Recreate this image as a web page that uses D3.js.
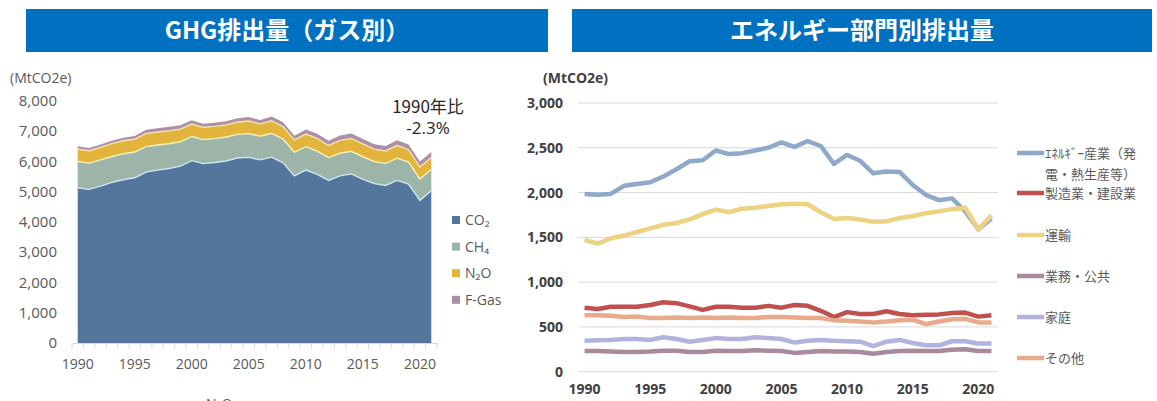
<!DOCTYPE html>
<html>
<head>
<meta charset="utf-8">
<script src="https://cdn.jsdelivr.net/npm/d3@7"></script>
<style>
  body { margin: 0; background: #fff; }
  text { font-family: "Open Sans", "Noto Sans CJK JP", sans-serif; }
  .jp { font-family: "Noto Sans CJK JP", sans-serif; }
</style>
</head>
<body>
<script>
// DATA
var years = d3.range(1990, 2022);
var gasNames = ['CO₂', 'CH₄', 'N₂O', 'F-Gas'];
var co2 = [5131, 5079, 5186, 5308, 5397, 5462, 5651, 5716, 5767, 5846, 6027, 5930, 5965, 6018, 6115, 6137,
    6055, 6143, 5954, 5523, 5716, 5577, 5374, 5527, 5589, 5412, 5267, 5208, 5376, 5255, 4715, 5032];
var ch4 = [870, 868, 866, 858, 860, 850, 840, 830, 820, 805, 800, 795, 790, 790, 780, 785,
    780, 790, 790, 785, 775, 765, 755, 750, 750, 745, 730, 730, 735, 725, 710, 705];
var n2o = [405, 410, 415, 425, 430, 430, 440, 430, 430, 420, 410, 405, 405, 400, 410, 415,
    410, 415, 410, 405, 415, 420, 400, 420, 420, 425, 410, 410, 425, 410, 395, 395];
var fgas = [95, 90, 95, 95, 100, 105, 115, 120, 130, 125, 125, 115, 120, 120, 125, 130,
    130, 140, 140, 140, 150, 155, 155, 160, 165, 165, 165, 165, 170, 175, 180, 185];
var leftTicks = [0, 1000, 2000, 3000, 4000, 5000, 6000, 7000, 8000];

var sectorNames = ['ｴﾈﾙｷﾞｰ産業（発電・熱生産等）', '製造業・建設業', '運輸', '業務・公共', '家庭', 'その他'];
var energy = [1983, 1975, 1985, 2075, 2095, 2115, 2180, 2260, 2350, 2360, 2470, 2430, 2440, 2470, 2500, 2560,
    2510, 2575, 2520, 2320, 2420, 2355, 2215, 2235, 2230, 2085, 1975, 1915, 1935, 1790, 1590, 1710];
var manuf = [715, 700, 725, 725, 725, 745, 775, 765, 730, 690, 725, 725, 715, 715, 735, 715,
    745, 735, 680, 610, 665, 645, 645, 675, 645, 630, 635, 640, 655, 660, 615, 630];
var transport = [1470, 1430, 1490, 1520, 1560, 1600, 1640, 1660, 1700, 1760, 1810, 1780, 1820, 1830, 1850, 1870,
    1875, 1870, 1780, 1705, 1715, 1700, 1675, 1680, 1715, 1735, 1770, 1790, 1815, 1830, 1590, 1745];
var commercial = [230, 230, 225, 220, 220, 225, 235, 235, 220, 220, 235, 230, 230, 240, 235, 230,
    210, 220, 230, 225, 225, 220, 200, 220, 230, 235, 230, 230, 245, 250, 230, 230];
var residential = [345, 350, 355, 365, 365, 355, 385, 365, 335, 355, 375, 365, 365, 385, 375, 365,
    325, 345, 355, 345, 340, 335, 285, 335, 355, 320, 295, 295, 340, 340, 315, 315];
var other = [630, 630, 625, 610, 615, 600, 600, 605, 600, 605, 600, 605, 600, 600, 610, 610,
    605, 600, 600, 575, 570, 560, 550, 560, 575, 580, 530, 560, 585, 590, 550, 550];
var rightTicks = [0, 500, 1000, 1500, 2000, 2500, 3000];
var yearLabels = [1990, 1995, 2000, 2005, 2010, 2015, 2020];

var svg = d3.select('body')
    .append('svg')
    .attr('width', 1157)
    .attr('height', 401);

// title bars
var titles = [
    { x: 26, w: 522, text: 'GHG排出量（ガス別）' },
    { x: 572, w: 580, text: 'エネルギー部門別排出量' }
];
titles.forEach(function (t) {
    svg.append('rect')
        .attr('x', t.x).attr('y', 9)
        .attr('width', t.w).attr('height', 43)
        .attr('fill', '#0070C0');
    svg.append('text')
        .attr('class', 'jp')
        .attr('x', t.x + t.w / 2).attr('y', 39)
        .attr('text-anchor', 'middle')
        .attr('fill', '#fff')
        .attr('font-size', 24)
        .attr('font-weight', 'bold')
        .text(t.text);
});

// LEFT: stacked area
var xL = d3.scaleBand().domain(years).range([72, 437]);
var yL = d3.scaleLinear().domain([0, 8000]).range([343, 101]);

var rows = years.map(function (y, i) {
    return { year: y, 'CO₂': co2[i], 'CH₄': ch4[i], 'N₂O': n2o[i], 'F-Gas': fgas[i] };
});
var stack = d3.stack().keys(gasNames)(rows);
var gasColor = ['#54759c', '#9db5a9', '#e3b43c', '#ad8fa6'];
var gasEdge = ['#cbe6f4', '#f6f0bd', '#f3e3b0', 'none'];

var area = d3.area()
    .x(function (d) { return xL(d.data.year) + xL.bandwidth() / 2; })
    .y0(function (d) { return yL(d[0]); })
    .y1(function (d) { return yL(d[1]); });
var topLine = d3.line()
    .x(function (d) { return xL(d.data.year) + xL.bandwidth() / 2; })
    .y(function (d) { return yL(d[1]); });

svg.selectAll('path.gas')
    .data(stack)
    .enter().append('path')
    .attr('class', 'gas')
    .attr('d', area)
    .attr('fill', function (d, i) { return gasColor[i]; });
svg.selectAll('path.edge')
    .data(stack)
    .enter().append('path')
    .attr('class', 'edge')
    .attr('d', topLine)
    .attr('fill', 'none')
    .attr('stroke', function (d, i) { return gasEdge[i]; })
    .attr('stroke-width', 1.4);

// left x axis
var axL = svg.append('g').attr('transform', 'translate(0,343)')
    .call(d3.axisBottom(xL).tickValues([]).tickSizeOuter(0));
axL.select('.domain').attr('stroke', '#d9d9d9');
axL.selectAll('line.tk')
    .data(years.concat([2022]))
    .enter().append('line')
    .attr('class', 'tk')
    .attr('x1', function (d) { return d < 2022 ? xL(d) : xL.range()[1]; })
    .attr('x2', function (d) { return d < 2022 ? xL(d) : xL.range()[1]; })
    .attr('y1', 0).attr('y2', 6)
    .attr('stroke', '#d9d9d9');
svg.selectAll('text.xl')
    .data(yearLabels)
    .enter().append('text')
    .attr('class', 'xl')
    .attr('x', function (d) { return xL(d) + xL.bandwidth() / 2; })
    .attr('y', 369)
    .attr('text-anchor', 'middle')
    .attr('font-size', 14)
    .attr('fill', '#595959')
    .text(function (d) { return d; });

svg.selectAll('text.yl')
    .data(leftTicks)
    .enter().append('text')
    .attr('class', 'yl')
    .attr('x', 57)
    .attr('y', function (d) { return yL(d) + 5; })
    .attr('text-anchor', 'end')
    .attr('font-size', 15)
    .attr('fill', '#595959')
    .text(d3.format(','));

svg.append('text')
    .attr('x', 10).attr('y', 83)
    .attr('font-size', 14)
    .attr('fill', '#595959')
    .text('(MtCO2e)');

// annotation
svg.append('text').attr('class', 'jp')
    .attr('x', 428).attr('y', 113)
    .attr('text-anchor', 'middle')
    .attr('font-size', 17).attr('fill', '#262626')
    .text('1990年比');
svg.append('text')
    .attr('x', 428).attr('y', 134)
    .attr('text-anchor', 'middle')
    .attr('font-size', 17).attr('fill', '#262626')
    .text('-2.3%');

// left legend
var legL = svg.selectAll('g.legL')
    .data(gasNames)
    .enter().append('g')
    .attr('class', 'legL')
    .attr('transform', function (d, i) { return 'translate(452,' + (220 + i * 26.6) + ')'; });
legL.append('rect')
    .attr('x', 0).attr('y', -4)
    .attr('width', 8).attr('height', 8)
    .attr('fill', function (d, i) { return gasColor[i]; });
legL.append('text')
    .attr('x', 13).attr('y', 5)
    .attr('font-size', 14)
    .attr('fill', '#595959')
    .text(function (d) { return d; });

// label cut by the bottom edge, as in the source image
svg.append('text')
    .attr('x', 206).attr('y', 409)
    .attr('font-size', 14)
    .attr('fill', '#595959')
    .text('N₂O');

// RIGHT: lines
var xR = d3.scaleBand().domain(years).range([578, 998]);
var yR = d3.scaleLinear().domain([0, 3000]).range([371.7, 103]);

svg.selectAll('line.grid')
    .data(rightTicks)
    .enter().append('line')
    .attr('class', 'grid')
    .attr('x1', 578).attr('x2', 998)
    .attr('y1', function (d) { return yR(d); })
    .attr('y2', function (d) { return yR(d); })
    .attr('stroke', '#d9d9d9');

svg.selectAll('text.yr')
    .data(rightTicks)
    .enter().append('text')
    .attr('class', 'yr')
    .attr('x', 563)
    .attr('y', function (d) { return yR(d) + 5; })
    .attr('text-anchor', 'end')
    .attr('font-size', 14)
    .attr('font-weight', 'bold')
    .attr('fill', '#404040')
    .text(d3.format(','));

svg.selectAll('text.xr')
    .data(yearLabels)
    .enter().append('text')
    .attr('class', 'xr')
    .attr('x', function (d) { return xR(d) + xR.bandwidth() / 2; })
    .attr('y', 394)
    .attr('text-anchor', 'middle')
    .attr('font-size', 14)
    .attr('font-weight', 'bold')
    .attr('fill', '#404040')
    .text(function (d) { return d; });

svg.append('text')
    .attr('x', 543).attr('y', 83)
    .attr('font-size', 14)
    .attr('font-weight', 'bold')
    .attr('fill', '#404040')
    .text('(MtCO2e)');

var sectors = [energy, manuf, transport, commercial, residential, other];
var sectorColor = ['#8ea9c9', '#c0504d', '#ecd281', '#a98a9c', '#b1b3de', '#e9a98b'];

var line = d3.line()
    .x(function (d, i) { return xR(years[i]) + xR.bandwidth() / 2; })
    .y(function (d) { return yR(d); });

svg.selectAll('path.sector')
    .data(sectors)
    .enter().append('path')
    .attr('class', 'sector')
    .attr('d', line)
    .attr('fill', 'none')
    .attr('stroke', function (d, i) { return sectorColor[i]; })
    .attr('stroke-width', 4.5)
    .attr('stroke-linejoin', 'round');

// right legend
var legY = [153, 193, 235, 276, 317, 358];
var legR = svg.selectAll('g.legR')
    .data(sectorNames)
    .enter().append('g')
    .attr('class', 'legR')
    .attr('transform', function (d, i) { return 'translate(1017,' + legY[i] + ')'; });
legR.append('line')
    .attr('x1', 0).attr('x2', 27)
    .attr('stroke', function (d, i) { return sectorColor[i]; })
    .attr('stroke-width', 4.5);
legR.append('text')
    .attr('class', 'jp')
    .attr('x', 28).attr('y', 5)
    .attr('font-size', 13)
    .attr('fill', '#595959')
    .each(function (d, i) {
        var t = d3.select(this);
        if (i === 0) {
            t.append('tspan').text('ｴﾈﾙｷﾞｰ産業（発');
            t.append('tspan').attr('x', 28).attr('dy', 21).text('電・熱生産等）');
        } else {
            t.text(d);
        }
    });
</script>
</body>
</html>
